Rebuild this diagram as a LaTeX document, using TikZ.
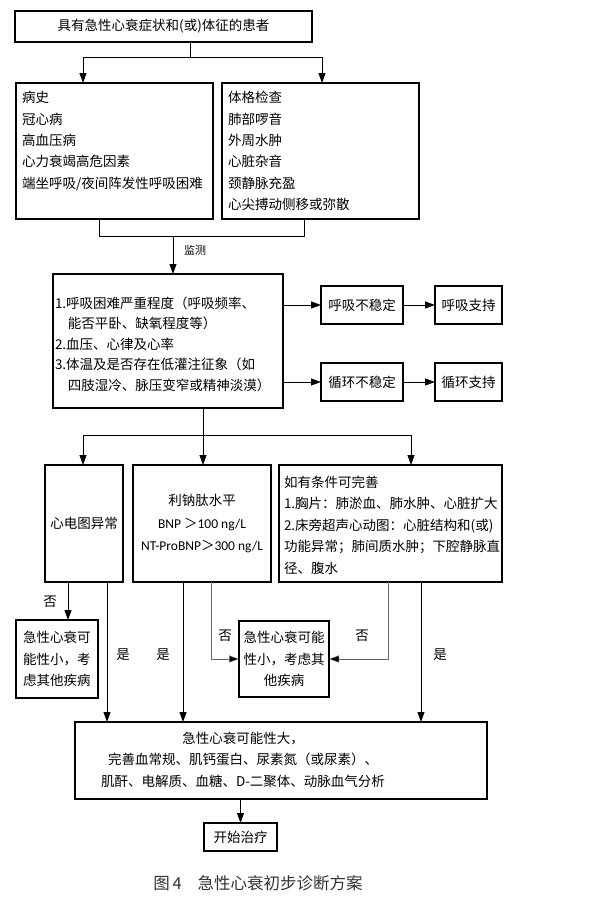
\documentclass[tikz,border=0pt]{standalone}
\usepackage{fontspec}
\setmainfont{Noto Sans CJK SC}
\newfontfamily\latinsans{Carlito}
\usetikzlibrary{arrows.meta}
\newcommand\fsz{\fontsize{13.5}{21.3}\selectfont}
\newcommand\fszm{\fontsize{13.5}{20.5}\selectfont}
\begin{document}
\begin{tikzpicture}[x=1pt,y=-1pt,
  box/.style={draw, line width=1.1pt, inner sep=0pt, outer sep=0pt, font=\fsz, align=center},
  txt/.style={inner sep=0pt, outer sep=0pt, align=left},
  lab/.style={inner sep=0pt, font=\fsz},
  conn/.style={line width=0.9pt},
  arr/.style={line width=0.9pt, -{Triangle[length=10pt,width=7pt]}},
  thin/.style={line width=0.5pt, draw=black!60},
  thinarr/.style={line width=0.5pt, draw=black!60, -{Triangle[length=10pt,width=7pt,fill=black]}}
]
\useasboundingbox (0,0) rectangle (615,900);
\fill[white] (0,0) rectangle (615,900);

% boxes
\node[box, minimum width=297pt, minimum height=31pt] (top) at (163.5,26.5) {具有急性心衰症状和(或)体征的患者};
\node[box, minimum width=197pt, minimum height=136pt] (hist) at (114.5,151) {};
\node[txt, font=\fsz, anchor=north west] (histT) at (22,91.5) {病史\\冠心病\\高血压病\\心力衰竭高危因素\\端坐呼吸/夜间阵发性呼吸困难};
\node[box, minimum width=197pt, minimum height=136pt] (phys) at (320.5,151) {};
\node[txt, font=\fsz, anchor=north west] (physT) at (228,91.5) {体格检查\\肺部啰音\\外周水肿\\心脏杂音\\颈静脉充盈\\心尖搏动侧移或弥散};

\node[box, minimum width=230pt, minimum height=134pt] (mon) at (168,341) {};
\node[txt, font=\fszm, anchor=north west] (monT) at (55,296.5) {1.呼吸困难严重程度（呼吸频率、\\\hspace*{13pt}能否平卧、缺氧程度等）\\2.血压、心律及心率\\3.体温及是否存在低灌注征象（如\\\hspace*{13pt}四肢湿冷、脉压变窄或精神淡漠）};

\node[box, minimum width=82pt, minimum height=38pt] (r1) at (362,305) {呼吸不稳定};
\node[box, minimum width=67pt, minimum height=38pt] (s1) at (468.5,305) {呼吸支持};
\node[box, minimum width=82pt, minimum height=38pt] (r2) at (362,382) {循环不稳定};
\node[box, minimum width=67pt, minimum height=38pt] (s2) at (468.5,382) {循环支持};

\node[box, minimum width=78pt, minimum height=117pt] (ecg) at (84,523.5) {心电图异常};
\node[box, minimum width=138pt, minimum height=117pt, font=\fontsize{13.5}{22.5}\selectfont] (bnp) at (202,523.5) {利钠肽水平\\{\latinsans BNP }＞{\latinsans 100 ng/L}\\{\latinsans NT-ProBNP}＞{\latinsans 300 ng/L}};
\node[box, minimum width=223pt, minimum height=117pt] (cond) at (390.5,523.5) {};
\node[txt, font=\fontsize{13.5}{21.5}\selectfont, anchor=north west] (condT) at (284,475.6) {如有条件可完善\\1.胸片：肺淤血、肺水肿、心脏扩大\\2.床旁超声心动图：心脏结构和(或)\\功能异常；肺间质水肿；下腔静脉直\\径、腹水};

\node[box, minimum width=82pt, minimum height=78pt] (lo1) at (57,659) {急性心衰可\\能性小，考\\虑其他疾病};
\node[box, minimum width=90pt, minimum height=76pt] (lo2) at (284,659) {急性心衰可能\\性小，考虑其\\他疾病};

\node[box, minimum width=412pt, minimum height=77pt, font=\fontsize{13.5}{21.5}\selectfont] (big) at (281,760.5) {};
\node[txt, align=center, font=\fontsize{13.5}{21.5}\selectfont] (bigT) at (243,759.5) {急性心衰可能性大，\\完善血常规、肌钙蛋白、尿素氮（或尿素）、\\肌酐、电解质、血糖、D-二聚体、动脉血气分析};
\node[box, minimum width=73pt, minimum height=28pt] (start) at (240.5,837) {开始治疗};

% labels
\node[lab, font=\fontsize{11}{13}\selectfont] (lm) at (195,250) {监测};
\node[lab] (l1) at (50,602) {否};
\node[lab] (l2) at (123,655) {是};
\node[lab] (l3) at (163,655) {是};
\node[lab] (l4) at (225,636) {否};
\node[lab] (l5) at (362,636) {否};
\node[lab] (l6) at (440,655) {是};

% connectors
\coordinate (j1) at (190,57);
\coordinate (j1l) at (83,57);
\coordinate (j1r) at (322,57);
\draw[conn] (top.south -| j1) -- (j1);
\draw[conn] (j1l) -- (j1r);
\draw[arr] (j1l) -- (j1l |- hist.north);
\draw[arr] (j1r) -- (j1r |- phys.north);

\coordinate (h2) at (99,236);
\coordinate (p2) at (304,236);
\coordinate (m2) at (173,236);
\draw[conn] (h2 |- hist.south) -- (h2) -- (p2) -- (p2 |- phys.south);
\draw[arr] (m2) -- (m2 |- mon.north);

\draw[arr] (mon.east |- r1) -- (r1.west);
\draw[arr] (r1.east) -- (s1.west);
\draw[arr] (mon.east |- r2) -- (r2.west);
\draw[arr] (r2.east) -- (s2.west);

\coordinate (b0) at (203,435);
\coordinate (bl) at (83,435);
\coordinate (br) at (411,435);
\draw[conn] (b0 |- mon.south) -- (b0);
\draw[conn] (bl) -- (br);
\draw[arr] (b0) -- (b0 |- bnp.north);
\draw[arr] (bl) -- (bl |- ecg.north);
\draw[arr] (br) -- (br |- cond.north);

\coordinate (xa) at (68,0);
\coordinate (xb) at (107,0);
\coordinate (xc) at (183,0);
\coordinate (xd) at (211,659);
\coordinate (xe) at (388,659);
\coordinate (xf) at (421,0);
\draw[arr] (xa |- ecg.south) -- (xa |- lo1.north);
\draw[arr] (xb |- ecg.south) -- (xb |- big.north);
\draw[arr] (xc |- bnp.south) -- (xc |- big.north);
\draw[thinarr] (xd |- bnp.south) -- (xd) -- (lo2.west);
\draw[thinarr] (xe |- cond.south) -- (xe) -- (lo2.east);
\draw[arr] (xf |- cond.south) -- (xf |- big.north);
\draw[arr] (big.south -| start) -- (start.north);

% caption
\node[inner sep=0pt, text=black!80, font=\fontsize{16.5}{18}\selectfont] (cap) at (258,883) {图\,4\hspace{16pt}急性心衰初步诊断方案};
\end{tikzpicture}
\end{document}
